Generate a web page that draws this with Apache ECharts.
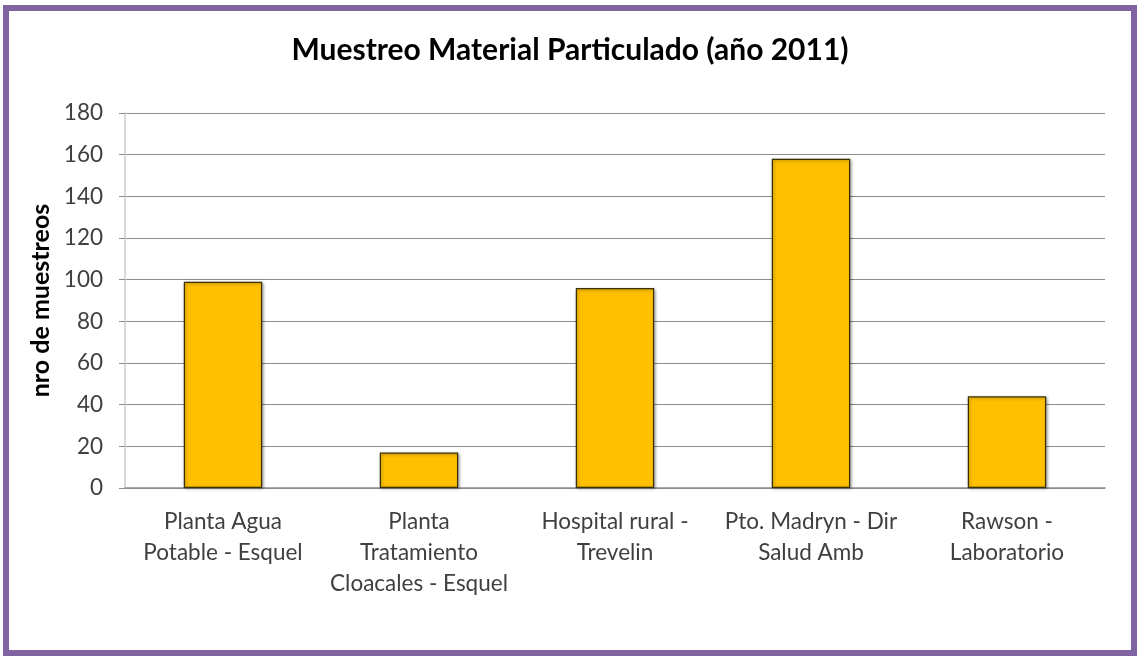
<!DOCTYPE html>
<html>
<head>
<meta charset="utf-8">
<script src="https://cdn.jsdelivr.net/npm/echarts@6/dist/echarts.min.js"></script>
<style>
  html, body { margin: 0; padding: 0; background: #fff; }
  #chart { width: 1140px; height: 657px; }
</style>
</head>
<body>
<div id="chart"></div>
<script>
var categories = [
  'Planta Agua\nPotable - Esquel',
  'Planta\nTratamiento\nCloacales - Esquel',
  'Hospital rural -\nTrevelin',
  'Pto. Madryn - Dir\nSalud Amb',
  'Rawson -\nLaboratorio'
]
var muestreos = [99, 17, 96, 158, 44]
var yTicks = { min: 0, max: 180, interval: 20 }

var chart = echarts.init(document.getElementById('chart'))
chart.setOption({
  animation: false,
  backgroundColor: '#fff',
  textStyle: { fontFamily: 'Lato, "Open Sans", sans-serif' },
  graphic: [{ // purple frame
    type: 'rect',
    shape: { x: 6, y: 8, width: 1128, height: 645 },
    style: { fill: 'none', stroke: '#8064A2', lineWidth: 6 }
  }],
  title: {
    text: 'Muestreo Material Particulado (año 2011)',
    left: 'center',
    top: 30,
    textStyle: { fontSize: 30, fontWeight: 'bold', color: '#000', fontFamily: 'Lato, sans-serif' }
  },
  grid: {
    left: 125,
    right: 35,
    top: 113,
    bottom: 169
  },
  xAxis: {
    type: 'category',
    data: categories,
    axisTick: { show: false },
    axisLine: { show: true, lineStyle: { color: '#8c8c8c', width: 1.5 } },
    axisLabel: {
      color: '#404040',
      fontSize: 22.5,
      lineHeight: 31,
      margin: 18,
      interval: 0
    }
  },
  yAxis: {
    type: 'value',
    min: yTicks.min,
    max: yTicks.max,
    interval: yTicks.interval,
    name: 'nro de muestreos',
    nameLocation: 'middle',
    nameGap: 71,
    nameTextStyle: { fontSize: 25, fontWeight: 'bold', color: '#000' },
    axisLine: { show: true, lineStyle: { color: '#d9d9d9', width: 2 } },
    axisTick: { show: true, length: 6, lineStyle: { color: '#8c8c8c' } },
    axisLabel: { color: '#404040', fontSize: 22.5, margin: 22 },
    splitLine: { lineStyle: { color: '#8c8c8c', width: 1.2 } }
  },
  series: [{
    type: 'bar',
    data: muestreos,
    barWidth: '40%',
    itemStyle: {
      color: '#FFC000',
      borderColor: '#3a3000',
      borderWidth: 1.2,
      shadowColor: 'rgba(0,0,0,0.35)',
      shadowBlur: 3,
      shadowOffsetX: 1,
      shadowOffsetY: 1
    }
  }]
})
</script>
</body>
</html>
